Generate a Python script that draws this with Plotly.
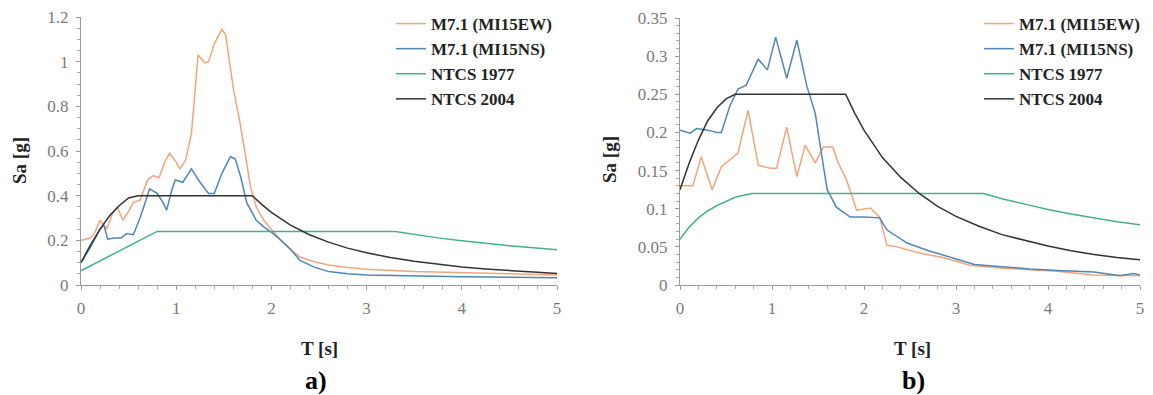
import plotly.graph_objects as go

# ---------------- Data: panel a) ----------------
T_ew_a = [0, 0.1, 0.15, 0.2, 0.27, 0.33, 0.38, 0.44, 0.5, 0.55, 0.62, 0.7, 0.76, 0.82, 0.88, 0.93,
          1.0, 1.04, 1.1, 1.16, 1.23, 1.3, 1.34, 1.4, 1.48, 1.52, 1.6, 1.66, 1.72, 1.78, 1.84, 1.92,
          2.0, 2.1, 2.2, 2.3, 2.44, 2.6, 2.8, 3.0, 3.5, 4.0, 4.5, 5.0]
Sa_ew_a = [0.20, 0.21, 0.24, 0.29, 0.25, 0.32, 0.35, 0.29, 0.33, 0.37, 0.38, 0.47, 0.49, 0.48, 0.55, 0.59,
           0.55, 0.52, 0.56, 0.68, 1.03, 0.995, 1.0, 1.08, 1.145, 1.12, 0.88, 0.75, 0.6, 0.44, 0.35, 0.29,
           0.25, 0.2, 0.16, 0.125, 0.105, 0.09, 0.078, 0.07, 0.06, 0.055, 0.05, 0.045]

T_ns_a = [0, 0.1, 0.2, 0.24, 0.28, 0.35, 0.42, 0.48, 0.55, 0.62, 0.69, 0.72, 0.8, 0.86, 0.9, 0.95,
          0.99, 1.07, 1.16, 1.25, 1.34, 1.4, 1.48, 1.57, 1.62, 1.68, 1.74, 1.84, 1.92, 2.02, 2.1, 2.2,
          2.3, 2.45, 2.6, 2.8, 3.0, 3.5, 4.0, 4.5, 5.0]
Sa_ns_a = [0.1, 0.17, 0.25, 0.27, 0.205, 0.21, 0.21, 0.23, 0.225, 0.3, 0.39, 0.43, 0.41, 0.37, 0.335, 0.42,
           0.47, 0.46, 0.52, 0.46, 0.41, 0.41, 0.5, 0.575, 0.565, 0.48, 0.37, 0.29, 0.26, 0.23, 0.2, 0.16,
           0.11, 0.08, 0.06, 0.05, 0.045, 0.04, 0.037, 0.035, 0.033]

T_77_a = [0, 0.8, 3.3, 3.5, 3.75, 4.0, 4.25, 4.5, 4.75, 5.0]
Sa_77_a = [0.064, 0.24, 0.24, 0.226, 0.211, 0.198, 0.186, 0.176, 0.167, 0.158]

T_04_a = [0, 0.1, 0.2, 0.3, 0.4, 0.5, 0.6, 1.8, 1.9, 2.0, 2.2, 2.4, 2.6, 2.8, 3.0, 3.25, 3.5, 3.75,
          4.0, 4.25, 4.5, 4.75, 5.0]
Sa_04_a = [0.1, 0.18, 0.25, 0.31, 0.355, 0.39, 0.4, 0.4, 0.36, 0.325, 0.268, 0.225, 0.192, 0.165, 0.144,
           0.123, 0.106, 0.092, 0.081, 0.072, 0.064, 0.058, 0.052]

# ---------------- Data: panel b) ----------------
T_ew_b = [0, 0.14, 0.23, 0.35, 0.45, 0.54, 0.63, 0.74, 0.85, 0.98, 1.05, 1.16, 1.27, 1.36, 1.47, 1.56,
          1.66, 1.72, 1.81, 1.92, 2.07, 2.17, 2.25, 2.36, 2.6, 2.86, 3.15, 3.5, 3.77, 4.1, 4.49, 4.8, 5.0]
Sa_ew_b = [0.13, 0.13, 0.168, 0.125, 0.155, 0.164, 0.173, 0.229, 0.157, 0.153, 0.153, 0.207, 0.142, 0.183,
           0.16, 0.181, 0.181, 0.16, 0.138, 0.098, 0.101, 0.089, 0.052, 0.05, 0.042, 0.036, 0.026, 0.022,
           0.02, 0.018, 0.013, 0.012, 0.012]

T_ns_b = [0, 0.11, 0.18, 0.3, 0.4, 0.45, 0.54, 0.63, 0.72, 0.85, 0.95, 1.04, 1.16, 1.27, 1.38, 1.47,
          1.56, 1.6, 1.7, 1.85, 2.0, 2.17, 2.25, 2.47, 2.7, 2.97, 3.2, 3.5, 3.8, 4.1, 4.5, 4.78, 4.93, 5.0]
Sa_ns_b = [0.203, 0.199, 0.205, 0.203, 0.2, 0.2, 0.234, 0.257, 0.262, 0.296, 0.282, 0.325, 0.271, 0.321,
           0.26, 0.225, 0.155, 0.125, 0.102, 0.089, 0.089, 0.088, 0.072, 0.055, 0.045, 0.035, 0.027, 0.024,
           0.021, 0.019, 0.017, 0.012, 0.015, 0.013]

T_77_b = [0, 0.1, 0.2, 0.3, 0.4, 0.5, 0.6, 0.7, 0.78, 3.3, 3.5, 3.75, 4.0, 4.25, 4.5, 4.75, 5.0]
Sa_77_b = [0.06, 0.076, 0.088, 0.097, 0.104, 0.11, 0.115, 0.118, 0.12, 0.12, 0.113, 0.106, 0.099, 0.093,
           0.088, 0.083, 0.079]

T_04_b = [0, 0.1, 0.2, 0.3, 0.4, 0.5, 0.6, 0.7, 1.8, 1.9, 2.0, 2.2, 2.4, 2.6, 2.8, 3.0, 3.25, 3.5, 3.75,
          4.0, 4.25, 4.5, 4.75, 5.0]
Sa_04_b = [0.125, 0.16, 0.19, 0.215, 0.232, 0.244, 0.25, 0.25, 0.25, 0.225, 0.203, 0.167, 0.141, 0.12,
           0.103, 0.09, 0.077, 0.066, 0.058, 0.051, 0.045, 0.040, 0.036, 0.033]

ticks_x = [0, 1, 2, 3, 4, 5]
ticks_y_a = [0, 0.2, 0.4, 0.6, 0.8, 1.0, 1.2]
ticks_y_b = [0, 0.05, 0.1, 0.15, 0.2, 0.25, 0.3, 0.35]

names = ["M7.1 (MI15EW)", "M7.1 (MI15NS)", "NTCS 1977", "NTCS 2004"]
colors = ["#F2A47C", "#4E86B6", "#45B08A", "#333333"]

W, H = 1153, 395
SERIF = "Liberation Serif"

fig = go.Figure()
series_a = [(T_ew_a, Sa_ew_a), (T_ns_a, Sa_ns_a), (T_77_a, Sa_77_a), (T_04_a, Sa_04_a)]
series_b = [(T_ew_b, Sa_ew_b), (T_ns_b, Sa_ns_b), (T_77_b, Sa_77_b), (T_04_b, Sa_04_b)]
for (x, y), n, c in zip(series_a, names, colors):
    fig.add_trace(go.Scatter(x=x, y=y, mode="lines", name=n, line=dict(color=c, width=1.5),
                             xaxis="x", yaxis="y", legend="legend"))
for (x, y), n, c in zip(series_b, names, colors):
    fig.add_trace(go.Scatter(x=x, y=y, mode="lines", name=n, line=dict(color=c, width=1.5),
                             xaxis="x2", yaxis="y2", legend="legend2"))


def px_x(p):
    return p / W


def px_y(p):
    return 1 - p / H


tickfont = dict(family=SERIF, size=17, color="#7a7a7a")
common_x = dict(range=[0, 5], tickvals=ticks_x, showgrid=False, zeroline=False, showline=True,
                linecolor="#9a9a9a", linewidth=1, ticks="outside", ticklen=4, tickcolor="#9a9a9a",
                tickfont=tickfont, automargin=False, ticklabelstandoff=4,
                minor=dict(ticks="outside", ticklen=3, dtick=0.2, tickcolor="#aaaaaa"))
common_y = dict(showgrid=False, zeroline=False, showline=True, linecolor="#9a9a9a", linewidth=1,
                ticks="outside", ticklen=4, tickcolor="#9a9a9a", tickfont=tickfont, automargin=False,
                ticklabelstandoff=4, tickformat="~g")

legend_common = dict(xanchor="left", yanchor="top", bgcolor="rgba(0,0,0,0)", borderwidth=0,
                     font=dict(family=SERIF, size=17, color="#222222", weight="bold"),
                     itemwidth=30, tracegroupgap=0)

fig.update_layout(
    template="none",
    width=W, height=H, margin=dict(l=0, r=0, t=0, b=0, autoexpand=False),
    paper_bgcolor="white", plot_bgcolor="white",
    xaxis=dict(domain=[px_x(81), px_x(557)], anchor="y", **common_x),
    yaxis=dict(domain=[px_y(285), px_y(17)], anchor="x", range=[0, 1.2], tickvals=ticks_y_a,
               minor=dict(ticks="outside", ticklen=3, dtick=0.05, tickcolor="#aaaaaa"), **common_y),
    xaxis2=dict(domain=[px_x(680), px_x(1140)], anchor="y2", **common_x),
    yaxis2=dict(domain=[px_y(285), px_y(18)], anchor="x2", range=[0, 0.35], tickvals=ticks_y_b,
                minor=dict(ticks="outside", ticklen=3, dtick=0.01, tickcolor="#aaaaaa"), **common_y),
    legend=dict(x=px_x(391), y=px_y(6), **legend_common),
    legend2=dict(x=px_x(979), y=px_y(6), **legend_common),
    showlegend=True,
)

title_font = dict(family=SERIF, size=19, color="#222222", weight="bold")
cap_font = dict(family=SERIF, size=26, color="#000000", weight="bold")
ann = [
    dict(text="Sa [g]", x=px_x(20), y=px_y(161), textangle=-90, font=title_font),
    dict(text="Sa [g]", x=px_x(610), y=px_y(160), textangle=-90, font=title_font),
    dict(text="T [s]", x=px_x(319), y=px_y(348), font=title_font),
    dict(text="T [s]", x=px_x(912), y=px_y(348), font=title_font),
    dict(text="a)", x=px_x(316), y=px_y(380), font=cap_font),
    dict(text="b)", x=px_x(913), y=px_y(380), font=cap_font),
]
for a in ann:
    fig.add_annotation(xref="paper", yref="paper", showarrow=False, xanchor="center", yanchor="middle", **a)

# remove the default 8px page margin so the figure fills the 1153x395 window exactly
fig.write_html("out.html", config={"displayModeBar": False},
               post_script="document.body.style.margin='0';document.body.style.overflow='hidden';")
